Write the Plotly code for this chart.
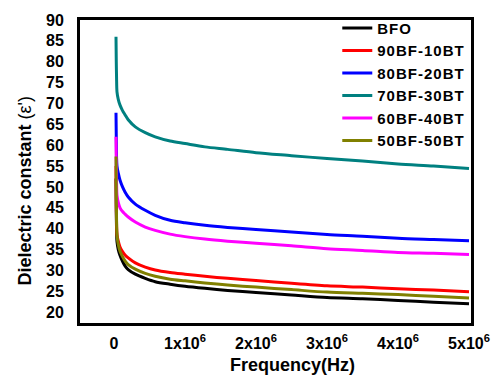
import plotly.graph_objects as go

freq_mhz = [0.028, 0.032, 0.036, 0.042, 0.06, 0.085, 0.12, 0.155, 0.2, 0.3, 0.44, 0.58, 0.79, 1.0, 1.28, 1.6, 2.0, 2.5, 3.0, 3.5, 4.0, 4.5, 5.0]

series_names = ["BFO", "90BF-10BT", "80BF-20BT", "70BF-30BT", "60BF-40BT", "50BF-50BT"]
series_colors = ["#000000", "#FF0000", "#0000FF", "#008080", "#FF00FF", "#808000"]

bfo = [52, 44, 39.5, 36.9, 35.0, 33.6, 32.2, 31.1, 30.2, 29.1, 28.1, 27.3, 26.7, 26.2, 25.7, 25.2, 24.7, 24.1, 23.5, 23.2, 22.8, 22.4, 22.0]
bf90 = [55, 46, 41, 38.5, 37.0, 35.6, 34.5, 33.7, 33.0, 31.8, 30.8, 30.1, 29.5, 29.1, 28.6, 28.1, 27.6, 26.9, 26.3, 26.0, 25.6, 25.3, 24.9]
bf80 = [67.8, 62, 57, 55, 53.3, 51.6, 50.0, 48.8, 47.6, 45.9, 44.4, 43.2, 42.0, 41.4, 40.8, 40.3, 39.8, 39.2, 38.6, 38.2, 37.7, 37.4, 37.1]
bf70 = [86.0, 80, 76, 72.8, 71.0, 69.6, 68.3, 67.3, 66.1, 64.4, 63.0, 62.0, 61.0, 60.4, 59.6, 59.0, 58.2, 57.5, 56.8, 56.2, 55.5, 55.0, 54.4]
bf60 = [62, 55, 51, 48, 46.3, 45.0, 44.1, 43.5, 42.8, 41.6, 40.4, 39.6, 38.7, 38.1, 37.5, 37.0, 36.5, 35.9, 35.2, 34.8, 34.3, 34.1, 33.8]
bf50 = [57.3, 48, 42, 38.5, 36.2, 34.6, 33.3, 32.3, 31.4, 30.3, 29.3, 28.6, 27.9, 27.5, 27.0, 26.5, 26.0, 25.4, 24.8, 24.5, 24.2, 23.8, 23.4]

series_values = [bfo, bf90, bf80, bf70, bf60, bf50]

x_tickvals_mhz = [0, 1, 2, 3, 4, 5]
x_ticktext = ["0", "1x10<sup>6</sup>", "2x10<sup>6</sup>", "3x10<sup>6</sup>", "4x10<sup>6</sup>", "5x10<sup>6</sup>"]
y_tickvals = [20, 25, 30, 35, 40, 45, 50, 55, 60, 65, 70, 75, 80, 85, 90]

FONT = "Liberation Sans, Arial, sans-serif"

fig = go.Figure()
freq_hz = [f * 1e6 for f in freq_mhz]
for name, color, vals in zip(series_names, series_colors, series_values):
    fig.add_trace(go.Scatter(x=freq_hz, y=vals, mode="lines",
                             name="<span style='letter-spacing:1px'>" + name + "</span>",
                             line=dict(color=color, width=3, shape="spline", smoothing=0.8)))

fig.update_layout(
    width=502, height=381,
    margin=dict(l=80, r=31, t=14, b=58),
    paper_bgcolor="white", plot_bgcolor="white",
    font=dict(family=FONT, size=16, color="black", weight="bold"),
    showlegend=True,
    legend=dict(x=0.658, y=1.027, xanchor="left", yanchor="top",
                bgcolor="rgba(0,0,0,0)", borderwidth=0,
                font=dict(family=FONT, size=15, color="black", weight="bold"),
                tracegroupgap=0),
    xaxis=dict(range=[-0.479e6, 5.028e6], tickvals=[v * 1e6 for v in x_tickvals_mhz],
               ticktext=x_ticktext, showgrid=False, zeroline=False,
               showline=True, linecolor="black", linewidth=3, mirror=True,
               ticks="", ticklabelstandoff=4,
               tickfont=dict(family=FONT, size=16, color="black", weight="bold")),
    yaxis=dict(range=[17.4, 90], tickvals=y_tickvals, showgrid=False, zeroline=False,
               showline=True, linecolor="black", linewidth=3, mirror=True,
               ticks="", ticklabelstandoff=10,
               tickfont=dict(family=FONT, size=16, color="black", weight="bold")),
    annotations=[
        dict(text="<b>Dielectric constant </b><span style='font-weight:normal'>(ε')</span>",
             xref="paper", yref="paper", x=(25 - 80) / 391, y=1 - (188 - 14) / 309,
             xanchor="center", yanchor="middle", textangle=-90, showarrow=False,
             font=dict(family=FONT, size=18, color="black", weight="bold")),
        dict(text="Frequency(Hz)", xref="paper", yref="paper",
             x=(292.5 - 80) / 391, y=1 - (366 - 14) / 309,
             xanchor="center", yanchor="middle", showarrow=False,
             font=dict(family=FONT, size=18, color="black", weight="bold")),
    ],
)

fig.write_html("out.html")
